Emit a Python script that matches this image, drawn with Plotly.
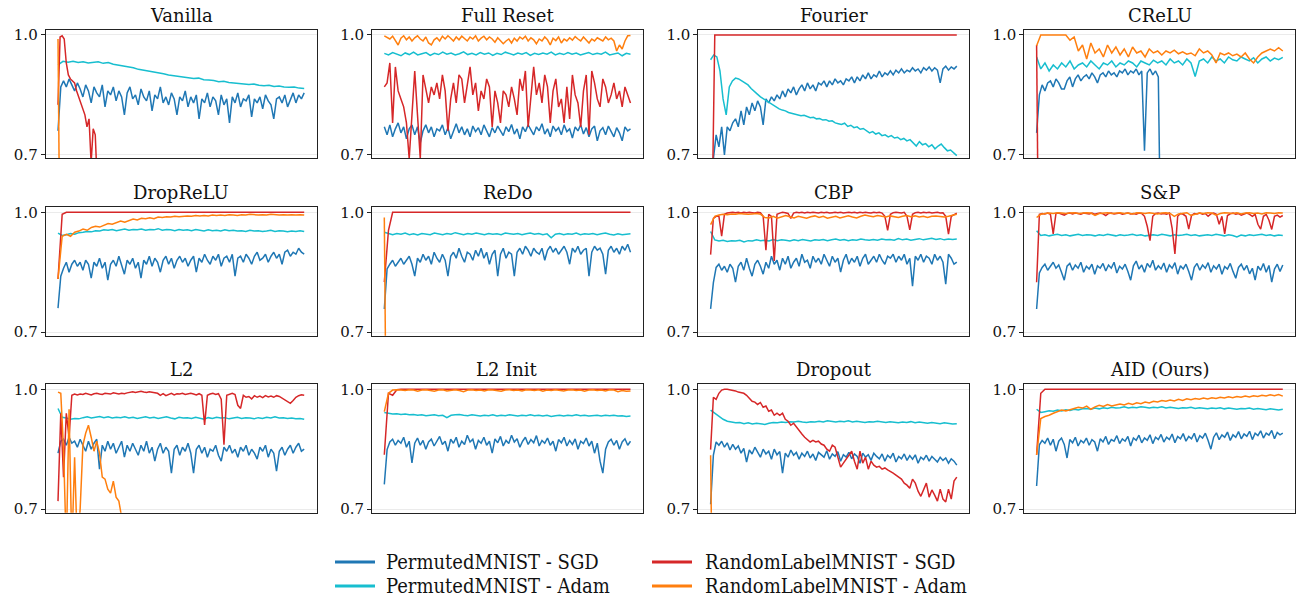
import numpy as np
import plotly.graph_objects as go

# ---------------- data ----------------
TITLES = ["Vanilla", "Full Reset", "Fourier", "CReLU",
          "DropReLU", "ReDo", "CBP", "S&P",
          "L2", "L2 Init", "Dropout", "AID (Ours)"]
SERIES_NAMES = ["PermutedMNIST - SGD", "PermutedMNIST - Adam",
                "RandomLabelMNIST - SGD", "RandomLabelMNIST - Adam"]
Y_TICKS = [0.7, 1.0]
Y_TICK_LABELS = ["0.7", "1.0"]

VANILLA_PM_SGD = [0.76, 0.87, 0.885, 0.87, 0.89, 0.875, 0.86, 0.88, 0.865, 0.845, 0.875, 0.86, 0.83, 0.87, 0.855, 0.845,
                  0.875, 0.82, 0.86, 0.85, 0.87, 0.835, 0.86, 0.845, 0.8, 0.855, 0.87, 0.84, 0.85, 0.825, 0.865, 0.845,
                  0.835, 0.86, 0.81, 0.85, 0.84, 0.87, 0.83, 0.845, 0.825, 0.855, 0.84, 0.8, 0.845, 0.835, 0.86, 0.82,
                  0.845, 0.83, 0.85, 0.79, 0.84, 0.83, 0.855, 0.82, 0.845, 0.835, 0.8, 0.85, 0.825, 0.84, 0.78, 0.845,
                  0.83, 0.855, 0.82, 0.84, 0.835, 0.85, 0.795, 0.84, 0.83, 0.845, 0.815, 0.85, 0.835, 0.825, 0.79, 0.84,
                  0.845, 0.83, 0.85, 0.82, 0.84, 0.855, 0.83, 0.85, 0.84, 0.855]
VANILLA_PM_ADAM = [0.925, 0.934, 0.932, 0.934, 0.931, 0.933, 0.93, 0.932, 0.933, 0.929, 0.931, 0.927, 0.925, 0.923, 0.92,
                   0.918, 0.914, 0.912, 0.91, 0.907, 0.905, 0.903, 0.9, 0.898, 0.897, 0.894, 0.893, 0.891, 0.892, 0.888,
                   0.887, 0.886, 0.883, 0.884, 0.881, 0.88, 0.879, 0.878, 0.876, 0.877, 0.874, 0.873, 0.874, 0.871,
                   0.872, 0.87, 0.869, 0.87, 0.867, 0.866]
VANILLA_RL_SGD = [0.825, 0.995, 0.998, 0.99, 0.93, 0.9, 0.89, 0.885, 0.88, 0.86, 0.845, 0.83, 0.82, 0.80, 0.77, 0.79,
                  0.68, 0.765, 0.75, 0.62, 0.5]
VANILLA_RL_SGD_STEPS = 120
VANILLA_RL_ADAM = [0.99, 0.4]
VANILLA_RL_ADAM_STEPS = 120

RESET_PM_SGD = [0.77, 0.75, 0.775, 0.745, 0.765, 0.78, 0.755, 0.77, 0.74, 0.765, 0.775, 0.75, 0.77, 0.73, 0.76, 0.775,
                0.755, 0.77, 0.745, 0.765, 0.76, 0.775, 0.75, 0.768, 0.74, 0.762, 0.778, 0.755, 0.77, 0.75, 0.765, 0.745,
                0.772, 0.758, 0.768, 0.75, 0.775, 0.76, 0.745, 0.768, 0.755, 0.772, 0.76, 0.748, 0.77, 0.758, 0.776,
                0.752, 0.765, 0.74, 0.77, 0.758, 0.775, 0.762, 0.75, 0.77, 0.76, 0.778, 0.752, 0.765, 0.745, 0.772, 0.76,
                0.768, 0.75, 0.775, 0.758, 0.765, 0.742, 0.77, 0.76, 0.775, 0.752, 0.768, 0.745, 0.765, 0.772, 0.735,
                0.76, 0.768, 0.75, 0.772, 0.76, 0.745, 0.768, 0.755, 0.735, 0.77, 0.76, 0.765]
RESET_PM_ADAM = [0.954, 0.95, 0.956, 0.952, 0.948, 0.955, 0.951, 0.957, 0.95, 0.953, 0.956, 0.949, 0.954, 0.951, 0.957,
                 0.952, 0.955, 0.95, 0.953, 0.958, 0.951, 0.954, 0.95, 0.956, 0.952, 0.955, 0.949, 0.954, 0.951, 0.957,
                 0.953, 0.95, 0.955, 0.952, 0.956, 0.949, 0.954, 0.951, 0.955, 0.952, 0.957, 0.95, 0.954, 0.951, 0.956,
                 0.952, 0.955, 0.95, 0.953, 0.956, 0.951, 0.954, 0.952, 0.957, 0.95, 0.953, 0.955, 0.948, 0.954, 0.952]
RESET_RL_SGD = [0.87, 0.88, 0.93, 0.78, 0.92, 0.86, 0.84, 0.82, 0.78, 0.69, 0.8, 0.91, 0.8, 0.69, 0.9, 0.86, 0.83, 0.87,
                0.85, 0.88, 0.84, 0.9, 0.86, 0.76, 0.84, 0.88, 0.83, 0.9, 0.89, 0.83, 0.87, 0.92, 0.85, 0.88, 0.81, 0.86,
                0.84, 0.89, 0.87, 0.77, 0.86, 0.83, 0.78, 0.86, 0.85, 0.82, 0.87, 0.84, 0.8, 0.89, 0.86, 0.91, 0.77, 0.84,
                0.92, 0.85, 0.88, 0.83, 0.9, 0.87, 0.78, 0.86, 0.89, 0.82, 0.84, 0.78, 0.87, 0.79, 0.9, 0.85, 0.83, 0.77,
                0.86, 0.9, 0.75, 0.91, 0.88, 0.84, 0.82, 0.89, 0.87, 0.83, 0.85, 0.88, 0.84, 0.86, 0.82, 0.87, 0.85, 0.83]
RESET_RL_ADAM = [0.998, 0.995, 0.99, 0.997, 0.985, 0.975, 0.992, 0.998, 0.988, 0.995, 0.985, 0.993, 0.998, 0.99, 0.985,
                 0.995, 0.98, 0.975, 0.988, 0.993, 0.985, 0.997, 0.99, 0.998, 0.992, 0.985, 0.995, 0.988, 0.997, 0.99,
                 0.985, 0.995, 0.99, 0.998, 0.985, 0.992, 0.997, 0.988, 0.995, 0.99, 0.982, 0.993, 0.986, 0.978, 0.985,
                 0.99, 0.98, 0.992, 0.985, 0.995, 0.99, 0.997, 0.985, 0.993, 0.988, 0.978, 0.99, 0.985, 0.995, 0.988,
                 0.975, 0.992, 0.986, 0.995, 0.98, 0.99, 0.985, 0.993, 0.987, 0.996, 0.99, 0.985, 0.995, 0.988, 0.98,
                 0.99, 0.985, 0.993, 0.99, 0.985, 0.995, 0.988, 0.992, 0.985, 0.96, 0.975, 0.965, 0.985, 0.998, 0.999]

FOURIER_PM_SGD = [0.65, 0.69, 0.75, 0.72, 0.77, 0.7, 0.77, 0.76, 0.78, 0.79, 0.77, 0.81, 0.775, 0.82, 0.8, 0.83, 0.81,
                  0.835, 0.82, 0.775, 0.84, 0.83, 0.845, 0.835, 0.85, 0.84, 0.86, 0.845, 0.865, 0.855, 0.87, 0.85, 0.865,
                  0.875, 0.86, 0.88, 0.865, 0.875, 0.86, 0.88, 0.875, 0.885, 0.87, 0.885, 0.875, 0.89, 0.88, 0.885, 0.875,
                  0.89, 0.885, 0.895, 0.88, 0.895, 0.885, 0.9, 0.89, 0.905, 0.89, 0.9, 0.895, 0.91, 0.895, 0.905, 0.9,
                  0.91, 0.9, 0.912, 0.905, 0.915, 0.905, 0.912, 0.908, 0.918, 0.91, 0.915, 0.905, 0.918, 0.912, 0.92,
                  0.91, 0.918, 0.912, 0.88, 0.915, 0.922, 0.912, 0.92, 0.915, 0.922]
FOURIER_PM_ADAM = [0.938, 0.95, 0.945, 0.91, 0.84, 0.80, 0.87, 0.885, 0.892, 0.89, 0.885, 0.88, 0.875, 0.866, 0.86,
                   0.852, 0.845, 0.84, 0.835, 0.828, 0.823, 0.82, 0.815, 0.812, 0.81, 0.806, 0.804, 0.802, 0.8, 0.798,
                   0.799, 0.795, 0.793, 0.794, 0.79, 0.791, 0.787, 0.788, 0.784, 0.785, 0.78, 0.778, 0.776, 0.779, 0.771,
                   0.774, 0.768, 0.77, 0.764, 0.766, 0.76, 0.755, 0.758, 0.752, 0.755, 0.748, 0.75, 0.745, 0.748, 0.742,
                   0.744, 0.738, 0.741, 0.735, 0.738, 0.73, 0.722, 0.733, 0.725, 0.728, 0.72, 0.725, 0.715, 0.722, 0.727,
                   0.718, 0.71, 0.712, 0.705, 0.698]
FOURIER_RL_SGD = [0.3, 1.0, 1.0, 1.0, 1.0, 1.0, 1.0, 1.0, 1.0, 1.0,
                  1.0, 1.0, 1.0, 1.0, 1.0, 1.0, 1.0, 1.0, 1.0, 1.0,
                  1.0, 1.0, 1.0, 1.0, 1.0, 1.0, 1.0, 1.0, 1.0, 1.0,
                  1.0, 1.0, 1.0, 1.0, 1.0, 1.0, 1.0, 1.0, 1.0, 1.0,
                  1.0, 1.0, 1.0, 1.0, 1.0, 1.0, 1.0, 1.0, 1.0, 1.0,
                  1.0, 1.0, 1.0, 1.0, 1.0, 1.0, 1.0, 1.0, 1.0, 1.0]

CRELU_PM_SGD = [0.755, 0.85, 0.875, 0.86, 0.88, 0.885, 0.87, 0.89, 0.88, 0.865, 0.865, 0.885, 0.895, 0.87, 0.89, 0.9,
                0.885, 0.895, 0.9, 0.89, 0.905, 0.895, 0.88, 0.9, 0.905, 0.895, 0.91, 0.9, 0.905, 0.895, 0.91, 0.905,
                0.915, 0.9, 0.91, 0.905, 0.915, 0.9, 0.91, 0.71, 0.905, 0.915, 0.9, 0.91, 0.895, 0.4]
CRELU_PM_SGD_STEPS = 90
CRELU_PM_ADAM = [0.945, 0.915, 0.93, 0.91, 0.925, 0.915, 0.93, 0.92, 0.935, 0.915, 0.925, 0.93, 0.92, 0.935, 0.925,
                 0.915, 0.93, 0.925, 0.935, 0.92, 0.93, 0.925, 0.935, 0.93, 0.92, 0.935, 0.93, 0.925, 0.937, 0.93, 0.935,
                 0.925, 0.94, 0.93, 0.935, 0.925, 0.94, 0.93, 0.896, 0.935, 0.94, 0.93, 0.945, 0.935, 0.94, 0.93, 0.945,
                 0.938, 0.935, 0.945, 0.94, 0.935, 0.943, 0.93, 0.94, 0.945, 0.935, 0.942, 0.938, 0.944]
CRELU_RL_SGD = [0.975, 0.4]
CRELU_RL_SGD_STEPS = 120
CRELU_RL_ADAM = [0.973, 1.0, 1.0, 1.0, 1.0, 1.0, 1.0, 1.0, 0.987, 0.995, 0.96, 0.975, 0.94, 0.98, 0.955, 0.965, 0.945,
                 0.975, 0.955, 0.97, 0.95, 0.965, 0.945, 0.97, 0.955, 0.96, 0.945, 0.965, 0.955, 0.96, 0.95, 0.96, 0.955,
                 0.962, 0.953, 0.958, 0.952, 0.955, 0.948, 0.965, 0.955, 0.96, 0.95, 0.93, 0.955, 0.95, 0.955, 0.948,
                 0.952, 0.945, 0.955, 0.94, 0.93, 0.945, 0.955, 0.96, 0.965, 0.96, 0.968, 0.96]

DROPRELU_PM_SGD = [0.76, 0.84, 0.86, 0.875, 0.85, 0.87, 0.88, 0.865, 0.875, 0.855, 0.88, 0.87, 0.835, 0.875, 0.865,
                   0.885, 0.86, 0.875, 0.83, 0.87, 0.88, 0.865, 0.89, 0.87, 0.845, 0.88, 0.87, 0.885, 0.86, 0.875, 0.835,
                   0.88, 0.87, 0.89, 0.865, 0.885, 0.875, 0.85, 0.88, 0.89, 0.87, 0.885, 0.86, 0.88, 0.89, 0.875, 0.885,
                   0.865, 0.88, 0.89, 0.85, 0.885, 0.875, 0.895, 0.88, 0.87, 0.89, 0.88, 0.895, 0.865, 0.885, 0.89,
                   0.875, 0.895, 0.84, 0.885, 0.89, 0.875, 0.895, 0.885, 0.87, 0.89, 0.9, 0.88, 0.885, 0.895, 0.875, 0.89,
                   0.9, 0.885, 0.895, 0.87, 0.9, 0.905, 0.89, 0.9, 0.895, 0.91, 0.9, 0.895]
DROPRELU_PM_ADAM = [0.948, 0.942, 0.944, 0.947, 0.945, 0.949, 0.95, 0.952, 0.951, 0.954, 0.953, 0.956, 0.955, 0.957,
                    0.954, 0.956, 0.958, 0.955, 0.957, 0.956, 0.958, 0.955, 0.957, 0.956, 0.959, 0.955, 0.957, 0.956,
                    0.954, 0.957, 0.955, 0.956, 0.954, 0.957, 0.955, 0.953, 0.956, 0.954, 0.955, 0.953, 0.956, 0.954,
                    0.955, 0.953, 0.954, 0.952, 0.955, 0.953, 0.954, 0.952, 0.953, 0.955, 0.952, 0.954, 0.953, 0.951,
                    0.953, 0.952, 0.954, 0.952]
DROPRELU_RL_SGD = [0.833, 0.995, 1.0, 1.0, 1.0, 1.0, 1.0, 1.0, 1.0, 1.0,
                   1.0, 1.0, 1.0, 1.0, 1.0, 1.0, 1.0, 1.0, 1.0, 1.0,
                   1.0, 1.0, 1.0, 1.0, 1.0, 1.0, 1.0, 1.0, 1.0, 1.0,
                   1.0, 1.0, 1.0, 1.0, 1.0, 1.0, 1.0, 1.0, 1.0, 1.0,
                   1.0, 1.0, 1.0, 1.0, 1.0, 1.0, 1.0, 1.0, 1.0, 1.0,
                   1.0, 1.0, 1.0, 1.0, 1.0, 1.0, 1.0, 1.0, 1.0, 1.0]
DROPRELU_RL_ADAM = [0.833, 0.94, 0.945, 0.94, 0.95, 0.953, 0.958, 0.955, 0.962, 0.965, 0.963, 0.968, 0.972, 0.97, 0.975,
                    0.978, 0.975, 0.98, 0.983, 0.981, 0.985, 0.984, 0.986, 0.984, 0.988, 0.987, 0.989, 0.988, 0.99,
                    0.989, 0.99, 0.991, 0.99, 0.992, 0.991, 0.992, 0.991, 0.993, 0.992, 0.993, 0.992, 0.994, 0.993,
                    0.992, 0.994, 0.993, 0.995, 0.994, 0.993, 0.994, 0.993, 0.995, 0.994, 0.993, 0.994, 0.993, 0.994,
                    0.993, 0.994, 0.993]

REDO_PM_SGD = [0.758, 0.858, 0.87, 0.88, 0.865, 0.875, 0.885, 0.87, 0.88, 0.89, 0.87, 0.84, 0.885, 0.875, 0.895, 0.88,
               0.89, 0.87, 0.9, 0.885, 0.875, 0.895, 0.88, 0.84, 0.89, 0.9, 0.885, 0.91, 0.89, 0.875, 0.9, 0.895, 0.88,
               0.905, 0.89, 0.91, 0.885, 0.9, 0.87, 0.895, 0.905, 0.84, 0.895, 0.91, 0.885, 0.9, 0.895, 0.84, 0.9, 0.91,
               0.895, 0.915, 0.905, 0.89, 0.91, 0.9, 0.895, 0.91, 0.88, 0.905, 0.915, 0.9, 0.91, 0.895, 0.905, 0.915,
               0.9, 0.87, 0.91, 0.9, 0.915, 0.895, 0.905, 0.91, 0.84, 0.9, 0.915, 0.905, 0.91, 0.895, 0.845, 0.905,
               0.915, 0.9, 0.91, 0.895, 0.915, 0.905, 0.92, 0.9]
REDO_PM_ADAM = [0.95, 0.947, 0.944, 0.947, 0.945, 0.948, 0.944, 0.946, 0.943, 0.947, 0.945, 0.944, 0.948, 0.946, 0.944,
                0.947, 0.945, 0.949, 0.946, 0.944, 0.947, 0.945, 0.948, 0.946, 0.944, 0.947, 0.945, 0.946, 0.944, 0.948,
                0.946, 0.945, 0.947, 0.944, 0.946, 0.948, 0.945, 0.947, 0.944, 0.946, 0.936, 0.945, 0.947, 0.944, 0.946,
                0.945, 0.948, 0.944, 0.946, 0.945, 0.947, 0.944, 0.946, 0.948, 0.945, 0.943, 0.946, 0.944, 0.945, 0.946]
REDO_RL_SGD = [0.825, 0.955, 1.0, 1.0, 1.0, 1.0, 1.0, 1.0, 1.0, 1.0,
               1.0, 1.0, 1.0, 1.0, 1.0, 1.0, 1.0, 1.0, 1.0, 1.0,
               1.0, 1.0, 1.0, 1.0, 1.0, 1.0, 1.0, 1.0, 1.0, 1.0,
               1.0, 1.0, 1.0, 1.0, 1.0, 1.0, 1.0, 1.0, 1.0, 1.0,
               1.0, 1.0, 1.0, 1.0, 1.0, 1.0, 1.0, 1.0, 1.0, 1.0,
               1.0, 1.0, 1.0, 1.0, 1.0, 1.0, 1.0, 1.0, 1.0, 1.0]
REDO_RL_ADAM = [0.987, 0.4]
REDO_RL_ADAM_STEPS = 120

CBP_PM_SGD = [0.758, 0.824, 0.862, 0.87, 0.855, 0.865, 0.85, 0.87, 0.86, 0.825, 0.865, 0.875, 0.855, 0.885, 0.86, 0.84,
              0.87, 0.88, 0.865, 0.845, 0.875, 0.86, 0.89, 0.87, 0.88, 0.855, 0.885, 0.87, 0.89, 0.86, 0.875, 0.885,
              0.865, 0.895, 0.875, 0.88, 0.86, 0.89, 0.875, 0.885, 0.87, 0.895, 0.88, 0.865, 0.89, 0.875, 0.885, 0.85,
              0.88, 0.895, 0.87, 0.885, 0.875, 0.89, 0.865, 0.885, 0.895, 0.87, 0.88, 0.89, 0.875, 0.895, 0.88, 0.87,
              0.89, 0.885, 0.895, 0.875, 0.89, 0.88, 0.895, 0.87, 0.885, 0.815, 0.89, 0.88, 0.895, 0.875, 0.89, 0.885,
              0.87, 0.895, 0.88, 0.89, 0.875, 0.82, 0.895, 0.885, 0.87, 0.875]
CBP_PM_ADAM = [0.952, 0.931, 0.928, 0.93, 0.927, 0.929, 0.928, 0.93, 0.926, 0.929, 0.928, 0.931, 0.929, 0.93, 0.928,
               0.932, 0.929, 0.931, 0.93, 0.928, 0.931, 0.929, 0.932, 0.93, 0.928, 0.931, 0.93, 0.932, 0.929, 0.931,
               0.933, 0.93, 0.932, 0.929, 0.931, 0.93, 0.933, 0.931, 0.93, 0.932, 0.93, 0.933, 0.931, 0.932, 0.93, 0.934,
               0.931, 0.933, 0.93, 0.932, 0.934, 0.931, 0.933, 0.935, 0.932, 0.934, 0.931, 0.933, 0.932, 0.933]
CBP_RL_SGD = [0.894, 0.985, 0.99, 0.99, 0.94, 0.995, 0.998, 0.999, 1.0, 0.999, 1.0, 0.998, 1.0, 0.999, 1.0, 0.999, 0.998,
              1.0, 0.999, 0.99, 0.905, 0.995, 0.99, 0.878, 0.995, 0.998, 1.0, 0.999, 0.997, 0.985, 0.998, 1.0, 0.999,
              1.0, 0.998, 1.0, 0.999, 1.0, 0.999, 0.998, 1.0, 0.999, 1.0, 0.998, 0.999, 1.0, 0.999, 1.0, 0.998, 0.999,
              1.0, 0.999, 1.0, 0.998, 1.0, 0.999, 1.0, 0.999, 0.998, 1.0, 0.999, 1.0, 0.998, 0.99, 0.955, 0.995, 0.999,
              1.0, 0.999, 0.998, 1.0, 0.99, 0.956, 0.995, 0.999, 1.0, 0.998, 1.0, 0.999, 1.0, 0.998, 0.999, 1.0, 0.998,
              0.999, 0.99, 0.945, 0.99, 0.995, 0.998]
CBP_RL_ADAM = [0.969, 0.99, 0.993, 0.995, 0.994, 0.996, 0.995, 0.997, 0.996, 0.995, 0.996, 0.997, 0.995, 0.987, 0.986,
               0.99, 0.985, 0.988, 0.992, 0.989, 0.986, 0.99, 0.988, 0.985, 0.989, 0.991, 0.987, 0.99, 0.985, 0.988,
               0.99, 0.986, 0.989, 0.991, 0.988, 0.986, 0.99, 0.993, 0.991, 0.989, 0.992, 0.99, 0.988, 0.991, 0.989,
               0.987, 0.99, 0.992, 0.989, 0.991, 0.988, 0.99, 0.987, 0.99, 0.991, 0.989, 0.988, 0.99, 0.992, 0.995]

SP_PM_SGD = [0.758, 0.848, 0.862, 0.87, 0.855, 0.865, 0.875, 0.86, 0.868, 0.85, 0.83, 0.865, 0.872, 0.855, 0.868, 0.86,
             0.875, 0.85, 0.865, 0.858, 0.87, 0.845, 0.866, 0.86, 0.872, 0.853, 0.868, 0.86, 0.875, 0.848, 0.865, 0.858,
             0.87, 0.852, 0.83, 0.866, 0.878, 0.858, 0.868, 0.85, 0.872, 0.862, 0.88, 0.855, 0.866, 0.858, 0.873, 0.85,
             0.868, 0.86, 0.874, 0.845, 0.866, 0.858, 0.87, 0.852, 0.83, 0.862, 0.872, 0.855, 0.868, 0.86, 0.874, 0.85,
             0.866, 0.858, 0.87, 0.845, 0.864, 0.858, 0.872, 0.852, 0.835, 0.862, 0.87, 0.855, 0.867, 0.846, 0.86, 0.83,
             0.865, 0.855, 0.872, 0.85, 0.867, 0.825, 0.858, 0.87, 0.852, 0.868]
SP_PM_ADAM = [0.954, 0.942, 0.944, 0.941, 0.943, 0.945, 0.942, 0.944, 0.941, 0.943, 0.945, 0.942, 0.944, 0.943, 0.941,
              0.944, 0.942, 0.945, 0.943, 0.941, 0.944, 0.942, 0.943, 0.945, 0.942, 0.944, 0.941, 0.943, 0.944, 0.942,
              0.945, 0.943, 0.941, 0.944, 0.942, 0.943, 0.945, 0.942, 0.944, 0.941, 0.943, 0.944, 0.942, 0.945, 0.943,
              0.941, 0.944, 0.942, 0.938, 0.943, 0.941, 0.944, 0.942, 0.943, 0.945, 0.942, 0.944, 0.941, 0.943, 0.942]
SP_RL_SGD = [0.825, 0.995, 0.997, 0.996, 0.998, 0.995, 0.946, 0.997, 0.998, 0.995, 0.993, 0.997, 0.998, 0.996, 0.998,
             0.997, 0.995, 0.998, 0.997, 0.996, 0.998, 0.995, 0.997, 0.998, 0.996, 0.992, 0.997, 0.998, 0.996, 0.997,
             0.998, 0.995, 0.997, 0.998, 0.996, 0.997, 0.995, 0.998, 0.997, 0.99, 0.965, 0.929, 0.99, 0.997, 0.998,
             0.996, 0.997, 0.995, 0.998, 0.96, 0.896, 0.99, 0.997, 0.995, 0.99, 0.958, 0.992, 0.997, 0.996, 0.998,
             0.995, 0.997, 0.99, 0.996, 0.998, 0.995, 0.97, 0.99, 0.946, 0.992, 0.996, 0.998, 0.995, 0.997, 0.993,
             0.996, 0.998, 0.995, 0.99, 0.995, 0.97, 0.958, 0.99, 0.995, 0.98, 0.957, 0.99, 0.993, 0.988, 0.992]
SP_RL_ADAM = [0.987, 0.995, 0.997, 0.998, 0.997, 0.999, 0.998, 0.997, 0.998, 0.999, 0.997, 0.998, 0.999, 0.998, 0.992,
              0.997, 0.998, 0.999, 0.997, 0.998, 0.999, 0.997, 0.998, 0.996, 0.999, 0.998, 0.997, 0.999, 0.998, 0.996,
              0.998, 0.999, 0.997, 0.99, 0.996, 0.998, 0.999, 0.992, 0.996, 0.998, 0.997, 0.999, 0.998, 0.993, 0.997,
              0.999, 0.998, 0.997, 0.999, 0.996, 0.998, 0.999, 0.997, 0.998, 0.996, 0.999, 0.998, 0.997, 0.999, 0.998]

L2_PM_SGD = [0.84, 0.87, 0.875, 0.86, 0.88, 0.865, 0.87, 0.855, 0.875, 0.86, 0.845, 0.87, 0.85, 0.865, 0.875, 0.8, 0.86,
             0.845, 0.87, 0.85, 0.865, 0.84, 0.855, 0.87, 0.83, 0.86, 0.845, 0.865, 0.85, 0.835, 0.86, 0.845, 0.87, 0.84,
             0.855, 0.82, 0.85, 0.865, 0.84, 0.855, 0.845, 0.79, 0.85, 0.86, 0.835, 0.855, 0.845, 0.865, 0.84, 0.79,
             0.85, 0.86, 0.84, 0.855, 0.83, 0.85, 0.845, 0.86, 0.835, 0.82, 0.855, 0.845, 0.86, 0.84, 0.85, 0.83, 0.855,
             0.845, 0.86, 0.835, 0.85, 0.84, 0.825, 0.855, 0.845, 0.86, 0.83, 0.85, 0.84, 0.795, 0.845, 0.855, 0.835,
             0.85, 0.86, 0.84, 0.855, 0.865, 0.845, 0.85]
L2_PM_ADAM = [0.952, 0.93, 0.928, 0.925, 0.927, 0.926, 0.929, 0.931, 0.928, 0.93, 0.932, 0.929, 0.931, 0.928, 0.93,
              0.929, 0.931, 0.928, 0.93, 0.927, 0.929, 0.931, 0.928, 0.93, 0.927, 0.929, 0.931, 0.928, 0.926, 0.93,
              0.928, 0.929, 0.927, 0.93, 0.928, 0.925, 0.929, 0.927, 0.93, 0.928, 0.929, 0.926, 0.928, 0.93, 0.927,
              0.929, 0.928, 0.926, 0.929, 0.927, 0.93, 0.928, 0.931, 0.928, 0.929, 0.927, 0.928, 0.926, 0.927, 0.925]
L2_RL_SGD = [0.72, 0.94, 0.78, 0.94, 0.88, 0.985, 0.988, 0.986, 0.988, 0.987, 0.99, 0.988, 0.986, 0.989, 0.99, 0.988,
             0.987, 0.99, 0.989, 0.988, 0.991, 0.99, 0.988, 0.99, 0.989, 0.991, 0.993, 0.994, 0.992, 0.993, 0.995, 0.993,
             0.992, 0.994, 0.993, 0.991, 0.99, 0.985, 0.989, 0.984, 0.988, 0.99, 0.986, 0.989, 0.988, 0.99, 0.987,
             0.989, 0.99, 0.988, 0.986, 0.989, 0.985, 0.911, 0.985, 0.988, 0.99, 0.987, 0.989, 0.975, 0.861, 0.985,
             0.988, 0.99, 0.987, 0.96, 0.952, 0.985, 0.98, 0.982, 0.976, 0.984, 0.98, 0.983, 0.979, 0.984, 0.981, 0.983,
             0.98, 0.984, 0.982, 0.978, 0.975, 0.97, 0.965, 0.972, 0.98, 0.984, 0.986, 0.985]
L2_RL_ADAM = [0.993, 0.99, 0.85, 0.6, 0.95, 0.6, 0.83, 0.6, 0.7, 0.86, 0.89, 0.91, 0.88, 0.845, 0.87, 0.84, 0.78,
              0.775, 0.75, 0.74, 0.77, 0.73, 0.72, 0.68, 0.55]
L2_RL_ADAM_STEPS = 90

L2INIT_PM_SGD = [0.762, 0.849, 0.868, 0.875, 0.86, 0.872, 0.865, 0.88, 0.855, 0.87, 0.816, 0.865, 0.878, 0.86, 0.872,
                 0.85, 0.868, 0.875, 0.858, 0.87, 0.882, 0.862, 0.87, 0.845, 0.875, 0.865, 0.88, 0.855, 0.87, 0.862,
                 0.885, 0.868, 0.875, 0.85, 0.872, 0.865, 0.88, 0.86, 0.87, 0.84, 0.876, 0.866, 0.882, 0.858, 0.872,
                 0.864, 0.885, 0.868, 0.876, 0.855, 0.87, 0.88, 0.862, 0.874, 0.866, 0.884, 0.858, 0.872, 0.865, 0.878,
                 0.86, 0.87, 0.845, 0.874, 0.866, 0.88, 0.858, 0.872, 0.862, 0.876, 0.85, 0.87, 0.864, 0.878, 0.858,
                 0.87, 0.84, 0.865, 0.82, 0.79, 0.85, 0.868, 0.875, 0.86, 0.872, 0.85, 0.868, 0.876, 0.86, 0.87]
L2INIT_PM_ADAM = [0.942, 0.94, 0.938, 0.939, 0.937, 0.938, 0.936, 0.937, 0.935, 0.936, 0.934, 0.935, 0.936, 0.934,
                  0.935, 0.929, 0.935, 0.936, 0.937, 0.935, 0.934, 0.936, 0.935, 0.933, 0.935, 0.934, 0.936, 0.933,
                  0.935, 0.934, 0.936, 0.935, 0.933, 0.935, 0.934, 0.936, 0.934, 0.935, 0.933, 0.935, 0.932, 0.934,
                  0.935, 0.933, 0.935, 0.934, 0.936, 0.934, 0.935, 0.933, 0.934, 0.935, 0.933, 0.935, 0.934, 0.935,
                  0.933, 0.934, 0.932, 0.933]
L2INIT_RL_SGD = [0.836, 0.99, 0.985, 0.999, 1.0, 1.0, 1.0, 1.0, 1.0, 1.0,
                 1.0, 1.0, 1.0, 1.0, 1.0, 1.0, 1.0, 1.0, 1.0, 1.0,
                 1.0, 1.0, 1.0, 1.0, 1.0, 1.0, 1.0, 1.0, 1.0, 1.0,
                 1.0, 1.0, 1.0, 1.0, 1.0, 1.0, 1.0, 1.0, 1.0, 1.0,
                 1.0, 1.0, 1.0, 1.0, 1.0, 1.0, 1.0, 1.0, 1.0, 1.0,
                 1.0, 1.0, 1.0, 1.0, 1.0, 1.0, 1.0, 1.0, 1.0, 1.0]
L2INIT_RL_ADAM = [0.944, 0.99, 0.998, 0.999, 0.998, 0.997, 0.999, 0.998, 0.995, 0.998, 0.999, 0.997, 0.995, 0.998,
                  0.999, 0.996, 0.998, 0.999, 0.997, 0.994, 0.998, 0.999, 0.997, 0.998, 0.996, 0.999, 0.998, 0.997,
                  0.995, 0.998, 0.999, 0.997, 0.998, 0.996, 0.999, 0.998, 0.997, 0.999, 0.995, 0.998, 0.997, 0.999,
                  0.998, 0.996, 0.998, 0.999, 0.997, 0.998, 0.995, 0.998, 0.999, 0.997, 0.998, 0.996, 0.999, 0.998,
                  0.994, 0.997, 0.995, 0.996]

DROPOUT_PM_SGD = [0.712, 0.835, 0.868, 0.86, 0.87, 0.855, 0.866, 0.848, 0.862, 0.85, 0.858, 0.84, 0.852, 0.818, 0.848,
                  0.838, 0.855, 0.842, 0.83, 0.85, 0.838, 0.845, 0.825, 0.85, 0.836, 0.844, 0.79, 0.84, 0.83, 0.848,
                  0.835, 0.842, 0.825, 0.84, 0.832, 0.845, 0.828, 0.838, 0.822, 0.842, 0.835, 0.83, 0.846, 0.825, 0.838,
                  0.832, 0.844, 0.82, 0.836, 0.83, 0.842, 0.826, 0.838, 0.832, 0.815, 0.84, 0.83, 0.836, 0.822, 0.84,
                  0.832, 0.826, 0.838, 0.82, 0.835, 0.828, 0.84, 0.818, 0.832, 0.826, 0.838, 0.822, 0.834, 0.825, 0.836,
                  0.815, 0.83, 0.824, 0.835, 0.82, 0.832, 0.826, 0.818, 0.83, 0.822, 0.828, 0.815, 0.826, 0.82, 0.81]
DROPOUT_PM_ADAM = [0.948, 0.94, 0.932, 0.925, 0.92, 0.918, 0.916, 0.917, 0.914, 0.916, 0.913, 0.915, 0.914, 0.912,
                   0.915, 0.917, 0.916, 0.918, 0.917, 0.919, 0.918, 0.92, 0.918, 0.917, 0.919, 0.918, 0.92, 0.918, 0.921,
                   0.919, 0.918, 0.92, 0.919, 0.921, 0.918, 0.92, 0.919, 0.917, 0.919, 0.918, 0.92, 0.918, 0.917, 0.919,
                   0.918, 0.916, 0.918, 0.917, 0.919, 0.916, 0.918, 0.917, 0.915, 0.917, 0.916, 0.914, 0.916, 0.915,
                   0.913, 0.914]
DROPOUT_RL_SGD = [0.849, 0.98, 0.975, 0.99, 0.998, 1.0, 1.0, 0.999, 0.998, 0.996, 0.993, 0.992, 0.99, 0.985, 0.978,
                  0.97, 0.968, 0.962, 0.967, 0.955, 0.958, 0.945, 0.948, 0.935, 0.94, 0.935, 0.94, 0.925, 0.92, 0.91,
                  0.915, 0.905, 0.895, 0.888, 0.88, 0.875, 0.868, 0.872, 0.868, 0.87, 0.863, 0.86, 0.85, 0.845, 0.86,
                  0.855, 0.83, 0.805, 0.815, 0.825, 0.835, 0.845, 0.82, 0.8, 0.845, 0.815, 0.83, 0.8, 0.82, 0.81, 0.805,
                  0.807, 0.8, 0.803, 0.798, 0.795, 0.79, 0.785, 0.78, 0.775, 0.765, 0.76, 0.752, 0.775, 0.765, 0.745,
                  0.732, 0.75, 0.765, 0.73, 0.748, 0.735, 0.72, 0.75, 0.725, 0.718, 0.75, 0.725, 0.77, 0.78]
DROPOUT_RL_ADAM = [0.835, 0.4]
DROPOUT_RL_ADAM_STEPS = 120

AID_PM_SGD = [0.758, 0.861, 0.872, 0.865, 0.878, 0.86, 0.875, 0.845, 0.87, 0.878, 0.862, 0.828, 0.874, 0.866, 0.88,
              0.858, 0.872, 0.866, 0.878, 0.86, 0.874, 0.868, 0.845, 0.876, 0.868, 0.882, 0.862, 0.874, 0.87, 0.884,
              0.864, 0.876, 0.87, 0.882, 0.858, 0.878, 0.872, 0.885, 0.866, 0.878, 0.872, 0.886, 0.864, 0.88, 0.874,
              0.887, 0.868, 0.88, 0.874, 0.888, 0.866, 0.882, 0.876, 0.889, 0.87, 0.882, 0.876, 0.89, 0.868, 0.884,
              0.878, 0.89, 0.872, 0.85, 0.88, 0.891, 0.874, 0.886, 0.88, 0.893, 0.872, 0.886, 0.88, 0.894, 0.876, 0.888,
              0.882, 0.895, 0.874, 0.89, 0.884, 0.896, 0.878, 0.89, 0.885, 0.897, 0.876, 0.892, 0.886, 0.89]
AID_PM_ADAM = [0.95, 0.942, 0.944, 0.946, 0.945, 0.948, 0.946, 0.949, 0.947, 0.95, 0.948, 0.951, 0.952, 0.95, 0.953,
               0.951, 0.954, 0.952, 0.955, 0.953, 0.954, 0.956, 0.953, 0.955, 0.954, 0.956, 0.955, 0.953, 0.955, 0.954,
               0.956, 0.953, 0.955, 0.954, 0.952, 0.954, 0.953, 0.955, 0.952, 0.954, 0.953, 0.951, 0.953, 0.952, 0.954,
               0.951, 0.953, 0.952, 0.95, 0.952, 0.951, 0.953, 0.95, 0.952, 0.951, 0.949, 0.951, 0.95, 0.948, 0.95]
AID_RL_SGD = [0.836, 0.99, 1.0, 1.0, 1.0, 1.0, 1.0, 1.0, 1.0, 1.0,
              1.0, 1.0, 1.0, 1.0, 1.0, 1.0, 1.0, 1.0, 1.0, 1.0,
              1.0, 1.0, 1.0, 1.0, 1.0, 1.0, 1.0, 1.0, 1.0, 1.0,
              1.0, 1.0, 1.0, 1.0, 1.0, 1.0, 1.0, 1.0, 1.0, 1.0,
              1.0, 1.0, 1.0, 1.0, 1.0, 1.0, 1.0, 1.0, 1.0, 1.0,
              1.0, 1.0, 1.0, 1.0, 1.0, 1.0, 1.0, 1.0, 1.0, 1.0]
AID_RL_ADAM = [0.836, 0.927, 0.932, 0.935, 0.94, 0.945, 0.948, 0.946, 0.95, 0.952, 0.955, 0.953, 0.958, 0.95, 0.956,
               0.96, 0.957, 0.962, 0.958, 0.96, 0.963, 0.961, 0.965, 0.962, 0.966, 0.964, 0.968, 0.966, 0.97, 0.968,
               0.972, 0.97, 0.973, 0.971, 0.975, 0.972, 0.976, 0.974, 0.977, 0.975, 0.978, 0.976, 0.979, 0.977, 0.98,
               0.978, 0.981, 0.979, 0.982, 0.98, 0.983, 0.981, 0.984, 0.982, 0.985, 0.983, 0.986, 0.984, 0.987, 0.983]

PANELS = [
    [(VANILLA_PM_SGD, None), (VANILLA_PM_ADAM, None), (VANILLA_RL_SGD, VANILLA_RL_SGD_STEPS), (VANILLA_RL_ADAM, VANILLA_RL_ADAM_STEPS)],
    [(RESET_PM_SGD, None), (RESET_PM_ADAM, None), (RESET_RL_SGD, None), (RESET_RL_ADAM, None)],
    [(FOURIER_PM_SGD, None), (FOURIER_PM_ADAM, None), (FOURIER_RL_SGD, None), None],
    [(CRELU_PM_SGD, CRELU_PM_SGD_STEPS), (CRELU_PM_ADAM, None), (CRELU_RL_SGD, CRELU_RL_SGD_STEPS), (CRELU_RL_ADAM, None)],
    [(DROPRELU_PM_SGD, None), (DROPRELU_PM_ADAM, None), (DROPRELU_RL_SGD, None), (DROPRELU_RL_ADAM, None)],
    [(REDO_PM_SGD, None), (REDO_PM_ADAM, None), (REDO_RL_SGD, None), (REDO_RL_ADAM, REDO_RL_ADAM_STEPS)],
    [(CBP_PM_SGD, None), (CBP_PM_ADAM, None), (CBP_RL_SGD, None), (CBP_RL_ADAM, None)],
    [(SP_PM_SGD, None), (SP_PM_ADAM, None), (SP_RL_SGD, None), (SP_RL_ADAM, None)],
    [(L2_PM_SGD, None), (L2_PM_ADAM, None), (L2_RL_SGD, None), (L2_RL_ADAM, L2_RL_ADAM_STEPS)],
    [(L2INIT_PM_SGD, None), (L2INIT_PM_ADAM, None), (L2INIT_RL_SGD, None), (L2INIT_RL_ADAM, None)],
    [(DROPOUT_PM_SGD, None), (DROPOUT_PM_ADAM, None), (DROPOUT_RL_SGD, None), (DROPOUT_RL_ADAM, DROPOUT_RL_ADAM_STEPS)],
    [(AID_PM_SGD, None), (AID_PM_ADAM, None), (AID_RL_SGD, None), (AID_RL_ADAM, None)],
]

# ---------------- style ----------------
COLORS = ["#1f77b4", "#17becf", "#d62728", "#ff7f0e"]
FONT = "DejaVu Serif"
LEGEND_FONT = "DejaVu Serif Condensed, DejaVu Serif"
W, H = 1296, 600
COL_LEFT = [45.7, 372.0, 698.3, 1024.3]
COL_WIDTH = 270.8
ROW_TOP = [30.0, 207.3, 384.3]
ROW_HEIGHT = 128.4
Y_RANGE = [0.691, 1.0125]
# legend: (line x0, line x1, text x, row y) in pixels, one per series
LEGEND_ITEMS = [(335, 375, 384, 562), (335, 375, 384, 586), (652, 692, 703, 562), (652, 692, 703, 586)]

fig = go.Figure()
layout = {}
annotations = []
shapes = []
for p, series in enumerate(PANELS):
    r, c = divmod(p, 4)
    k = "" if p == 0 else str(p + 1)
    xd = [COL_LEFT[c] / W, min(1.0, (COL_LEFT[c] + COL_WIDTH) / W)]
    yd = [1 - (ROW_TOP[r] + ROW_HEIGHT) / H, 1 - ROW_TOP[r] / H]
    layout["xaxis" + k] = dict(domain=xd, range=[-0.05, 1.05], showticklabels=False, ticks="",
                               showgrid=False, zeroline=False, showline=True, mirror=True,
                               linecolor="#222", linewidth=1, anchor="y" + k, fixedrange=True,
                               automargin=False)
    layout["yaxis" + k] = dict(domain=yd, range=Y_RANGE, tickvals=Y_TICKS, ticktext=Y_TICK_LABELS,
                               ticks="outside", ticklen=4, tickwidth=1, tickcolor="#222",
                               showgrid=True, gridcolor="#ebebeb", gridwidth=1, zeroline=False,
                               showline=True, mirror=True, linecolor="#222", linewidth=1,
                               tickfont=dict(family=FONT, size=15, color="#111"),
                               anchor="x" + k, fixedrange=True, automargin=False)
    annotations.append(dict(text=TITLES[p], x=(xd[0] + xd[1]) / 2, y=yd[1], xref="paper", yref="paper",
                            xanchor="center", yanchor="bottom", yshift=2, showarrow=False,
                            font=dict(family=FONT, size=18, color="#111")))
    for s in range(4):
        item = series[s]
        if item is None:
            continue
        vals, steps = item
        n = steps if steps else len(vals)
        x = np.arange(len(vals)) / (n - 1)
        fig.add_trace(go.Scatter(x=x, y=vals, mode="lines", name=SERIES_NAMES[s],
                                 line=dict(color=COLORS[s], width=1.5),
                                 xaxis="x" + k, yaxis="y" + k,
                                 showlegend=False, hoverinfo="skip"))

# manual legend (keeps plotly from shrinking the plotting area)
for s, (x0, x1, tx, ly) in enumerate(LEGEND_ITEMS):
    yy = 1 - ly / H
    shapes.append(dict(type="line", xref="paper", yref="paper", x0=x0 / W, x1=x1 / W, y0=yy, y1=yy,
                       line=dict(color=COLORS[s], width=3)))
    annotations.append(dict(text=SERIES_NAMES[s], x=tx / W, y=yy, xref="paper", yref="paper",
                            xanchor="left", yanchor="middle", showarrow=False,
                            font=dict(family=LEGEND_FONT, size=20, color="#111")))

fig.update_layout(**layout)
fig.update_layout(width=W, height=H, margin=dict(l=0, r=0, t=0, b=0, autoexpand=False), showlegend=False,
                  paper_bgcolor="white", plot_bgcolor="white", annotations=annotations,
                  shapes=shapes, font=dict(family=FONT))
fig.write_html("out.html")
